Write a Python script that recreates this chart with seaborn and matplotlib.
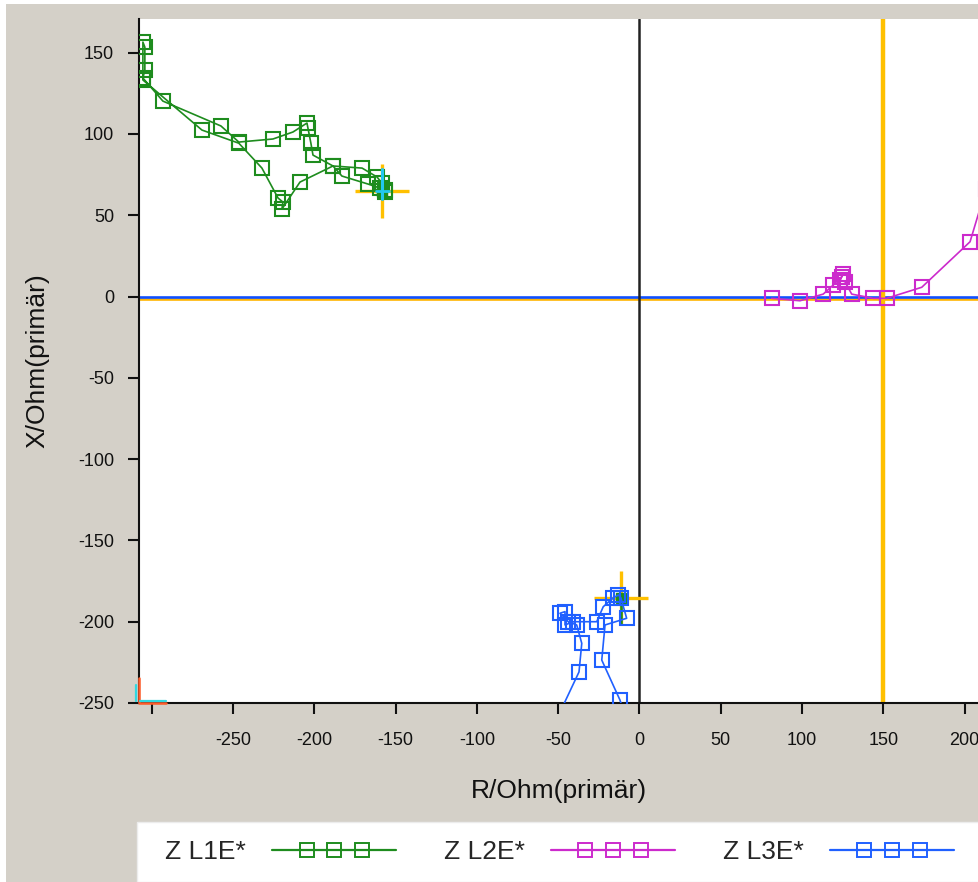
import numpy as np
import pandas as pd
import matplotlib
matplotlib.use("Agg")
import matplotlib.pyplot as plt
import matplotlib.transforms as mtransforms
from matplotlib.lines import Line2D
from matplotlib.patches import Rectangle
from matplotlib.legend_handler import HandlerLine2DCompound
import seaborn as sns

# Impedance trajectories in the R/X plane (primary ohms)
l1e_r = [-156.5, -158.4, -161.4, -170.6, -188.5, -200.8, -202.1, -203.9, -204.5,
         -213.1, -225.4, -246.4, -257.4, -293.1, -305.4, -304.2, -304.2, -305.4,
         -305.4, -269.1, -246.4, -232.2, -222.3, -219.3, -219.9, -208.8, -188.5,
         -183.0, -167.0, -159.6, -156.5]
l1e_x = [65.5, 69.8, 73.5, 79.0, 80.3, 87.0, 94.4, 103.6, 106.7,
         101.2, 96.9, 95.0, 104.9, 120.2, 134.4, 139.3, 153.4, 156.5,
         133.2, 102.4, 94.3, 79.0, 60.6, 58.1, 53.8, 70.4, 80.3,
         74.1, 69.2, 66.7, 64.3]

l2e_r = [81.3, 98.7, 113.0, 119.2, 124.4, 125.3, 123.3, 126.4, 130.5,
         143.8, 152.0, 173.6, 203.3, 213.0]
l2e_x = [-1.1, -2.6, 1.5, 7.1, 12.2, 13.8, 10.1, 9.1, 1.5,
         -1.1, -1.1, 5.7, 33.7, 66.0]

l3e_r = [-49.5, -37.2, -35.5, -38.6, -43.8, -48.9, -45.8, -45.8, -40.7,
         -26.3, -22.3, -16.3, -13.0, -11.4, -7.9, -21.2, -23.2, -12.0, -9.5]
l3e_x = [-257.0, -230.9, -213.3, -202.0, -200.0, -194.8, -193.8, -202.0, -200.0,
         -200.0, -190.8, -185.4, -183.6, -185.4, -197.9, -202.0, -223.6, -248.2, -256.0]

series_names = ["Z L1E*", "Z L2E*", "Z L3E*"]
series_colors = ["#1e8c1e", "#cc2acc", "#2060ff"]

# Cursor positions and reach line
cursor_r = [-158.1, -11.4]
cursor_x = [65.2, -185.4]
reach_r = 150

x_ticks = list(range(-300, 201, 50))
x_tick_labels = [""] + [str(v) for v in x_ticks[1:]]
y_ticks = list(range(-250, 151, 50))

frames = []
for name, r, x in zip(series_names, [l1e_r, l2e_r, l3e_r], [l1e_x, l2e_x, l3e_x]):
    frames.append(pd.DataFrame({"R": r, "X": x, "series": name,
                                "step": np.arange(len(r))}))
df = pd.concat(frames, ignore_index=True)

sns.set_style("ticks")
plt.rcParams["font.family"] = ["Liberation Sans", "DejaVu Sans"]
plt.rcParams["axes.unicode_minus"] = False

BG = "#d4d0c8"
fig = plt.figure(figsize=(9.79, 8.82), dpi=100, facecolor=BG)

# window frame strips and legend panel
fig.patches.append(Rectangle((0, 0), 6 / 979, 1, transform=fig.transFigure,
                             facecolor="white", edgecolor="none", zorder=0))
fig.patches.append(Rectangle((0, 1 - 4 / 882), 1, 4 / 882, transform=fig.transFigure,
                             facecolor="white", edgecolor="none", zorder=0))
fig.patches.append(Rectangle((137 / 979, 0), 1, 60 / 882, transform=fig.transFigure,
                             facecolor="white", edgecolor="#ececec", lw=1, zorder=0))

ax = fig.add_axes([139 / 979, 1 - 703 / 882, 840 / 979, 684 / 882])
ax.set_facecolor("white")
ax.set_xlim(-307.8, 208.8)
ax.set_ylim(-250, 170.7)

# reference lines
xaxis_tr = mtransforms.blended_transform_factory(ax.transAxes, ax.transData)
below = xaxis_tr + mtransforms.ScaledTranslation(0, -2.5 / 100, fig.dpi_scale_trans)
ax.plot([0, 1], [0, 0], color="#ffb400", lw=1.9, transform=below, zorder=1)
ax.axhline(0, color="#1050ff", lw=1.9, zorder=1.1)
ax.axvline(0, color="#222222", lw=1.8, zorder=1.2)
ax.axvline(reach_r, color="#ffc000", lw=3.2, zorder=1.3)

# cursor crosses
ax.plot(cursor_r, cursor_x, ls="none", marker="+", ms=39, mew=2.4,
        color="#ffc000", zorder=2)
ax.plot(cursor_r, cursor_x, ls="none", marker="s", ms=7, color="#1e8c1e",
        zorder=2.5)

for name, color in zip(series_names, series_colors):
    sns.lineplot(data=df[df["series"] == name], x="R", y="X", sort=False,
                 estimator=None, color=color, lw=1.2, marker="s", ms=9.8,
                 mfc="none", mec=color, mew=1.5, legend=False, ax=ax, zorder=3)

# cyan cursor tick and green stub
ax.plot([cursor_r[0], cursor_r[0]], [cursor_x[0] + 13, cursor_x[0] - 5],
        color="#22c8f0", lw=2.2, zorder=4)
ax.plot([cursor_r[0] - 4, cursor_r[0] + 4], [cursor_x[0], cursor_x[0]],
        color="#22c8f0", lw=2.0, zorder=4)
ax.plot([cursor_r[1], cursor_r[1]], [cursor_x[1], cursor_x[1] - 16],
        color="#1e8c1e", lw=1.8, zorder=2.6)

# corner zone marks
x0, y0 = -307.8, -250
ax.plot([x0, x0, -291.2], [-234.6, y0, y0], color="#ff5a28", lw=1.8,
        clip_on=False, zorder=5)
ax.plot([x0 - 2.0, x0 - 2.0], [-239, y0 + 1.5], color="#30d8e0", lw=1.6,
        clip_on=False, zorder=5)
ax.plot([x0 + 0.5, -291.2], [y0 + 1.5, y0 + 1.5], color="#30d8e0", lw=1.6,
        clip_on=False, zorder=5)

for side in ["top", "right"]:
    ax.spines[side].set_visible(False)
for side in ["left", "bottom"]:
    ax.spines[side].set_color("#111111")
    ax.spines[side].set_linewidth(1.5)

ax.set_xticks(x_ticks)
ax.set_xticklabels(x_tick_labels)
ax.set_yticks(y_ticks)
ax.tick_params(axis="both", direction="out", length=8, width=1.5,
               color="#111111", labelsize=13, labelcolor="#111111")
ax.tick_params(axis="x", pad=13)
ax.tick_params(axis="y", pad=10)

ax.set_xlabel("R/Ohm(primär)", fontsize=19, color="#111111")
ax.xaxis.label.set_va("center")
ax.xaxis.set_label_coords(0.5, (703 - 791) / 684)
ax.set_ylabel("X/Ohm(primär)", fontsize=19, color="#111111")
ax.yaxis.label.set_va("center")
ax.yaxis.set_label_coords((37 - 139) / 840, 0.5)


class SpacedMarkers(HandlerLine2DCompound):
    def get_xdata(self, legend, xdescent, ydescent, width, height, fontsize):
        pad = self._marker_pad * fontsize
        line_x = np.linspace(-xdescent, -xdescent + width, 3)
        mark_x = np.linspace(-xdescent + pad, -xdescent + width - pad, 3)
        return line_x, mark_x


handles = [Line2D([], [], color=c, lw=1.6, marker="s", ms=9.5, mfc="none",
                  mec=c, mew=1.4) for c in series_colors]
fig.legend(handles, series_names, loc="center left",
           bbox_to_anchor=(165 / 979, 1 - 852 / 882), ncol=3, frameon=False,
           markerfirst=False, numpoints=3, fontsize=19, handlelength=4.7,
           handletextpad=1.0, columnspacing=1.8, borderpad=0, borderaxespad=0,
           handler_map={Line2D: SpacedMarkers(marker_pad=1.3)})

fig.savefig("out.png", dpi=100, facecolor=BG)
